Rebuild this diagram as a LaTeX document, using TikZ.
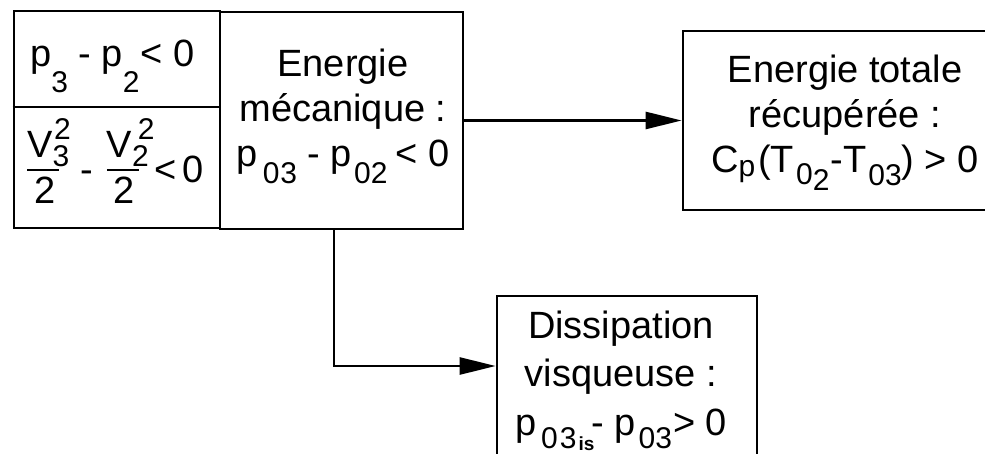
\documentclass[tikz,border=0pt]{standalone}
\usepackage{fontspec}
\setmainfont{Liberation Sans}
\usepackage{tikz}
\usetikzlibrary{arrows.meta}

% small indices, lowered or raised
\newcommand\idxfont{\fontsize{30}{30}\selectfont}
\newcommand\subidx[2][17pt]{\smash{\raisebox{-#1}{\idxfont #2}}}
\newcommand\supidx[2][18pt]{\smash{\raisebox{#1}{\idxfont #2}}}
% V_i^2 over 2 : index, box width, shift of the exponent
\newcommand\vover[3]{%
  \makebox[#2][l]{%
    \rlap{\raisebox{12pt}{\rule{32pt}{2.2pt}}}%
    \rlap{\raisebox{25pt}{V\subidx[9pt]{#1}}}%
    \rlap{\kern#3\supidx[43pt]{2}}%
    \rlap{\kern7pt\raisebox{-21pt}{2}}}}

\begin{document}
\begin{tikzpicture}[x=1pt,y=-1pt,
    box/.style={draw, line width=2.8pt, inner sep=0pt},
    txt/.style={font=\fontsize{38}{45}\selectfont, align=center, inner sep=0pt},
    arr/.style={line width=2.8pt, -{Triangle[length=36pt,width=17pt]}}]
            \useasboundingbox (0,0) rectangle (985,454);
            \clip (0,0) rectangle (985,454);

            % Boxes
            \node[box, minimum width=206pt, minimum height=217pt] (cond) at (117,119.5) {};
            \node[box, minimum width=243pt, minimum height=217pt] (meca) at (341.5,120.5) {};
            \node[box, minimum width=437pt, minimum height=179pt] (totale) at (901.5,120.5) {};
            \node[box, minimum width=260pt, minimum height=224pt] (dissip) at (627,408) {};

            % Split of the left box
            \coordinate (split) at (0,107);
            \draw[line width=2.8pt] (cond.west |- split) -- (cond.east |- split);

            % Texts
            \node[txt, anchor=base west] (static) at (30,67)
                {p\subidx[26pt]{3} - p\subidx[26pt]{2}\kern1pt< 0};
            \node[txt, anchor=base west] (kinetic) at (27,183)
                {\vover{3}{53pt}{27pt}-\kern14pt\vover{2}{48pt}{31pt}<\kern5pt0};
            \node[txt] (mecatext) at (343,111.7)
                {Energie\\mécanique :\\p\kern5pt\subidx{0\kern1pt3} - p\kern2pt\subidx{02}\kern8pt< 0};
            \node[txt] (totaletext) at (845,117.2)
                {Energie totale\\récupérée :\\C\subidx[4pt]{p}\kern3pt(T\kern2pt\subidx[12pt]{0\raisebox{-6pt}{2}}\kern1pt-T\kern2pt\subidx[13pt]{03}) > 0};
            \node[txt, font=\fontsize{38}{48.5}\selectfont] (dissiptext) at (621,376.7)
                {Dissipation\\visqueuse :\\p\kern5pt\subidx[13pt]{0\kern2pt3\kern2pt\raisebox{-2pt}{\fontsize{19}{19}\selectfont\bfseries is}}\kern-3pt- p\kern3pt\subidx[13pt]{03}\kern1pt> 0};

            % Arrows
            \coordinate (bend) at (334,366);
            \draw[arr] (meca.east) -- (meca.east -| totale.west);
            \draw[arr] (meca.south -| bend) |- (dissip.west |- bend);
        \end{tikzpicture}
\end{document}
